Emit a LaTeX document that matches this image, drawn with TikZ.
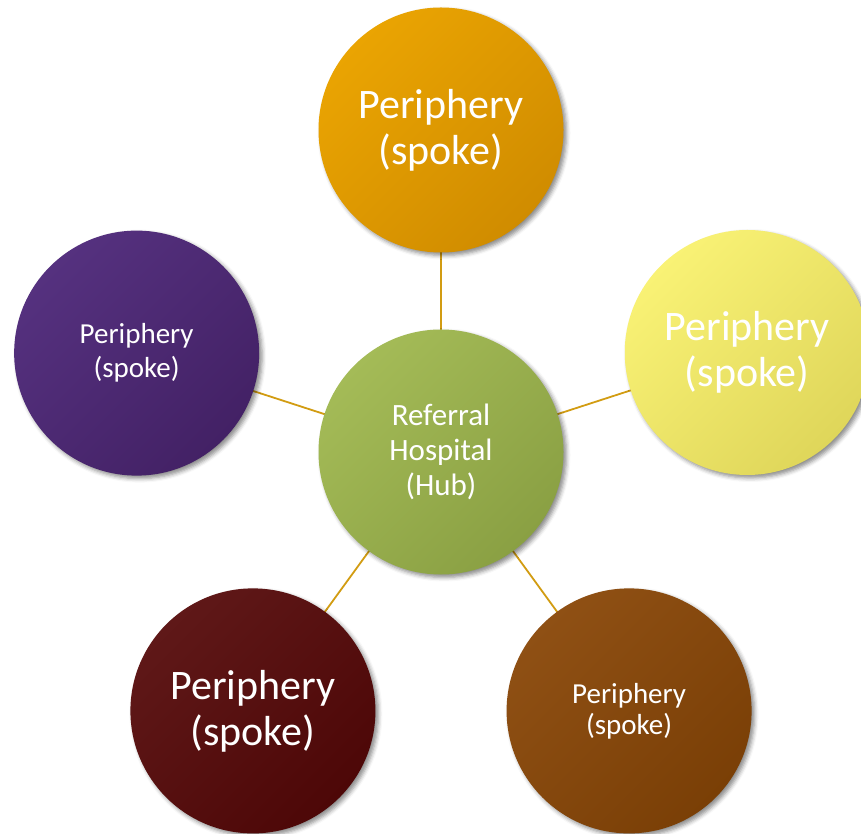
\documentclass[tikz,border=0pt]{standalone}
\usepackage{fontspec}
\setmainfont{Carlito}
\usetikzlibrary{%
  shadows.blur, backgrounds, positioning, calc
}
\usepackage{xcolor}
\definecolor{linkgold}{HTML}{D29C12}
\definecolor{orangeA}{HTML}{EAA402}
\definecolor{orangeB}{HTML}{D08C00}
\definecolor{yellowA}{HTML}{F9F275}
\definecolor{yellowB}{HTML}{DFD65A}
\definecolor{greenA}{HTML}{A4BB57}
\definecolor{greenB}{HTML}{8AA043}
\definecolor{purpleA}{HTML}{55317F}
\definecolor{purpleB}{HTML}{432165}
\definecolor{redA}{HTML}{5F1818}
\definecolor{redB}{HTML}{4D0707}
\definecolor{brownA}{HTML}{8F5014}
\definecolor{brownB}{HTML}{7A3F06}
\tikzstyle{bubble} = [%
  circle,
  minimum size=245pt,
  align=center,
  text=white,
  inner sep=0pt,
  shading angle=45,
  blur shadow={shadow xshift=3pt, shadow yshift=-3pt,
    shadow blur radius=4pt, shadow opacity=45}
]
\tikzstyle{link} = [%
  draw=linkgold,
  line width=1.8pt
]
\newcommand{\bigtxt}{\fontsize{42}{46}\selectfont}
\newcommand{\midtxt}{\fontsize{31}{35}\selectfont}
\newcommand{\smalltxt}{\fontsize{29}{31}\selectfont}
\newcommand{\lefttxt}{\fontsize{29}{34}\selectfont}

\begin{document}
\begin{tikzpicture}[x=1pt,y=1pt]
  \useasboundingbox (0,0) rectangle (861,833);

  % Nodes
  \node[bubble,left color=greenA,right color=greenB,shading angle=45,font=\midtxt] (Hub) at (441,381) {Referral\\Hospital\\(Hub)};
  \node[bubble,left color=orangeA,right color=orangeB,shading angle=45,font=\bigtxt] (S1) at ([shift={(90:322)}]Hub.center) {Periphery\\(spoke)};
  \node[bubble,left color=yellowA,right color=yellowB,shading angle=45,font=\bigtxt] (S2) at ([shift={(18:322)}]Hub.center) {Periphery\\(spoke)};
  \node[bubble,left color=brownA,right color=brownB,shading angle=45,font=\smalltxt] (S3) at ([shift={(306:320)}]Hub.center) {Periphery\\(spoke)};
  \node[bubble,left color=redA,right color=redB,shading angle=45,font=\bigtxt] (S4) at ([shift={(234:320)}]Hub.center) {Periphery\\(spoke)};
  \node[bubble,left color=purpleA,right color=purpleB,shading angle=45,font=\lefttxt] (S5) at ([shift={(162:320)}]Hub.center) {Periphery\\(spoke)};

  % Hub-spoke edges
  \begin{scope}[on background layer]
    \foreach \s in {S1,S2,S3,S4,S5}
      \draw[link] (Hub.center) to (\s.center);
  \end{scope}

\end{tikzpicture}
\end{document}
